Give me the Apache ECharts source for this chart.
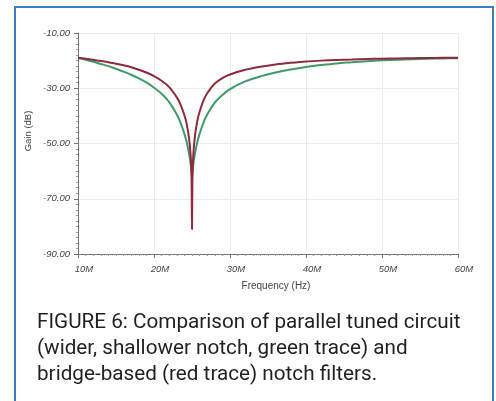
<!DOCTYPE html>
<html>
<head>
<meta charset="utf-8">
<script src="https://cdn.jsdelivr.net/npm/echarts@6/dist/echarts.min.js"></script>
<style>
html,body{margin:0;padding:0;background:#fff;width:496px;height:401px;overflow:hidden;}
#frame{position:absolute;left:14px;top:6px;width:476px;height:400px;border-left:2px solid #3b7fc0;border-top:2px solid #3b7fc0;border-right:2px solid #3b7fc0;}
#chart{position:absolute;left:0;top:0;width:496px;height:401px;}
#cap{position:absolute;left:37px;top:308px;width:455px;font-family:"Roboto",sans-serif;font-size:20.7px;line-height:26px;color:#231f20;}
</style>
</head>
<body>
<div id="frame"></div>
<div id="chart"></div>
<div id="cap">FIGURE 6: Comparison of parallel tuned circuit<br>(wider, shallower notch, green trace) and<br>bridge-based (red trace) notch filters.</div>
<script>
var freqMHz = [10,11,12,13,14,15,16,17,18,19,20,21,22,23,23.5,24,24.3,24.6,24.8,24.9,24.95,25,25.05,25.1,25.2,25.4,25.7,26,26.5,27,28,29,30,32,34,36,38,40,42,44,46,48,50,52,54,56,58,60];
var redGain = [-19.0,-19.3,-19.7,-20.1,-20.6,-21.1,-21.7,-22.4,-23.3,-24.3,-25.6,-27.3,-29.6,-33.3,-35.9,-39.8,-42.9,-47.9,-53.5,-58.5,-64,-81,-64,-58.5,-53,-47,-41.8,-38.5,-34.5,-31.8,-28.3,-26.3,-25.0,-23.3,-22.2,-21.4,-20.8,-20.3,-20.0,-19.8,-19.6,-19.4,-19.3,-19.2,-19.1,-19.05,-19.0,-19.0];
var greenGain = [-19.1,-19.7,-20.4,-21.2,-22.0,-23.0,-24.0,-25.1,-26.4,-27.9,-29.8,-32.0,-35.0,-39.5,-42.5,-46.5,-49.5,-53.5,-57,-59.5,-61,-62,-61,-59.5,-57,-53.5,-49.5,-46.5,-42.5,-39.5,-35.2,-32.4,-30.3,-27.5,-25.7,-24.3,-23.2,-22.3,-21.6,-21.0,-20.6,-20.2,-19.9,-19.7,-19.5,-19.3,-19.2,-19.1];
var xTicks = [10,20,30,40,50,60];
var yTicks = [-90,-70,-50,-30,-10];
var xTitle = 'Frequency (Hz)';
var yTitle = 'Gain (dB)';

function pairs(xs, ys){ return xs.map(function(x,i){ return [x, ys[i]]; }); }

var chart = echarts.init(document.getElementById('chart'), null, {renderer:'canvas'});
var FONT = 'Liberation Sans, Arial, sans-serif';
var lblStyle = {fontFamily:FONT, fontStyle:'italic', fontSize:9.5, color:'#444'};
chart.setOption({
  animation:false,
  grid:{left:78, right:38, top:33, bottom:147},
  xAxis:{
    type:'value', min:xTicks[0], max:xTicks[xTicks.length-1], interval:10,
    axisLine:{lineStyle:{color:'#777', width:1}},
    axisTick:{length:4, lineStyle:{color:'#777'}},
    minorTick:{show:true, splitNumber:10, length:2, lineStyle:{color:'#999'}},
    axisLabel:Object.assign({margin:10, padding:[0,0,0,12], formatter:function(v){return v+'M';}}, lblStyle),
    splitLine:{show:true, lineStyle:{color:'#ececec', width:1}}
  },
  yAxis:{
    type:'value', min:yTicks[0], max:yTicks[yTicks.length-1], interval:20,
    axisLine:{show:true, lineStyle:{color:'#777', width:1}},
    axisTick:{show:true, length:4, lineStyle:{color:'#777'}},
    minorTick:{show:true, splitNumber:10, length:2, lineStyle:{color:'#999'}},
    axisLabel:Object.assign({margin:8, formatter:function(v){return v.toFixed(2);}}, lblStyle),
    splitLine:{show:true, lineStyle:{color:'#ececec', width:1}}
  },
  graphic:[
    {type:'text', x:276, y:286, style:{text:xTitle, x:0, y:0, fill:'#444', font:'10px '+FONT, textAlign:'center', textVerticalAlign:'middle'}},
    {type:'text', x:28, y:131, rotation:Math.PI/2, style:{text:yTitle, x:0, y:0, fill:'#444', font:'9.5px '+FONT, textAlign:'center', textVerticalAlign:'middle'}}
  ],
  series:[
    {type:'line', data:pairs(freqMHz, greenGain), showSymbol:false, smooth:0.3, lineStyle:{color:'#3f9a68', width:2}, z:2},
    {type:'line', data:pairs(freqMHz, redGain), showSymbol:false, smooth:0.3, lineStyle:{color:'#8e2a3c', width:2}, z:3}
  ]
});
</script>
</body>
</html>
